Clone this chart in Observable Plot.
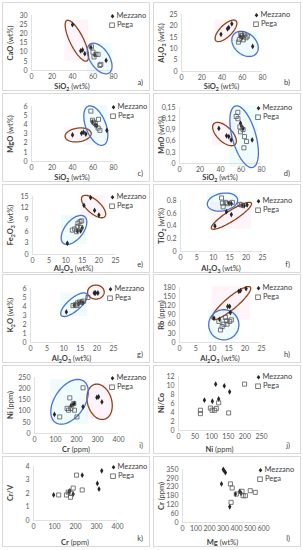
<!DOCTYPE html>
<html><head><meta charset="utf-8">
<script src="https://cdn.jsdelivr.net/npm/d3@7"></script>
<script src="https://cdn.jsdelivr.net/npm/@observablehq/plot@0.6"></script>
<style>
body{margin:0;background:#fff;font-family:Lato,"Liberation Sans",sans-serif;}
#fig{position:relative;width:303px;height:550px;overflow:hidden;}
.panel{position:absolute;border:1px solid #d9d9d9;box-sizing:border-box;}
.panel svg{position:absolute;left:0;top:0;overflow:visible;}
.xt,.yt{position:absolute;font-size:7.5px;color:#404040;white-space:nowrap;line-height:1;}
.yt{transform:translate(-50%,-50%) rotate(-90deg);}
.xt{transform:translate(-50%,-50%);}
sub{font-size:70%;vertical-align:-0.3em;line-height:0;}
.leg{position:absolute;font-size:7.5px;color:#404040;line-height:1;white-space:nowrap;transform:translateY(-50%);}
.leg svg{position:static;vertical-align:middle;margin-right:2px;}
.let{position:absolute;font-size:7.5px;color:#404040;line-height:1;}
</style></head>
<body><div id="fig"></div>
<script>
// ---- data ----
const seriesNames = ["Mezzano", "Pega"];
const panelLetters = ["a)","b)","c)","d)","e)","f)","g)","h)","i)","j)","k)","l)"];

// a) CaO vs SiO2
const aMez = [[40,25],[48,10.7],[49.8,11.2],[52,9.2],[58,12.5],[61.8,8.5],[72.8,5.5]];
const aPeg = [[58.5,12.9],[62.8,8.8],[65,8.8],[61,7.4],[66.7,2.8],[67.6,3.3],[60,10]];
// b) Al2O3 vs SiO2
const bMez = [[39,16.3],[45.4,18.7],[46.7,19.2],[49.7,20.9],[70.3,11],[57.8,15.4],[59.8,14.8],[61,15.5]];
const bPeg = [[56.2,12.9],[57.2,14],[59.5,15.8],[62,16],[63.7,14.8],[58.5,16.5],[61,13.9],[65,15.5]];
// c) MgO vs SiO2
const cMez = [[40,2.9],[48.8,3.07],[50.7,3.2],[53,3.0],[59.5,4.3],[62,3.97],[63.7,3.9],[73.5,3.4]];
const cPeg = [[57.9,5.5],[59.5,4.5],[60.5,4.3],[65.4,4.6],[62.1,4.15],[65,3.65],[66.7,3.4]];
// d) MnO vs SiO2
const dMez = [[38.4,0.094],[45.9,0.074],[48.1,0.072],[50.4,0.063],[59.5,0.108],[60.5,0.1],[62,0.094],[70.9,0.063]];
const dPeg = [[56.9,0.137],[55.3,0.126],[57,0.12],[58.9,0.098],[59.5,0.085],[62,0.091],[63.4,0.072],[65.4,0.059],[62.8,0.042]];
// e) Fe2O3 vs Al2O3
const eMez = [[10.5,2.9],[13.5,6.1],[14.5,6.1],[15,6.9],[17.5,14.7],[15.5,12.7],[18.7,11.4],[20,10.2]];
const ePeg = [[12,6.3],[12.7,6.6],[13.5,7.2],[13.7,8.1],[14.3,8.5],[13.3,5.9],[14.8,8.7],[14.5,7]];
// f) TiO2 vs Al2O3
const fMez = [[10.5,0.40],[14,0.625],[15.5,0.58],[14.8,0.76],[15.5,0.75],[19.4,0.715],[20.3,0.73],[18.8,0.72]];
const fPeg = [[12.5,0.84],[12.8,0.76],[13.7,0.77],[14.3,0.75],[15.8,0.77],[18.1,0.74],[18.6,0.73],[13,0.70]];
// g) K2O vs Al2O3
const gMez = [[10.8,3.4],[13.2,4.15],[14.5,4.3],[15.2,4.5],[15.8,4.4],[19.2,5.5],[19.6,5.5],[20.3,5.5]];
const gPeg = [[12.8,4.1],[13.5,4.2],[14.2,4.4],[14.8,4.5],[15.5,4.5],[16,4.6],[14,4.1],[17.3,5.0]];
// h) Rb vs Al2O3
const hMez = [[10.5,80],[14.7,118],[15.3,118],[15.5,98],[18.1,167],[18.6,170],[20.3,176],[12.2,76]];
const hPeg = [[12,69],[13,52],[13.5,60],[14.3,71],[14.5,60],[15.3,69],[15.8,74],[12.5,41],[14,82]];
// i) Ni vs Cr
const iMez = [[95,85],[174,124],[183,129],[190,134],[231,119],[297,161],[305,164],[321,141]];
const iPeg = [[120,74],[168,159],[155,112],[162,104],[174,112],[187,134],[202,74],[231,204],[190,104]];
// j) Ni/Co vs Ni
const jMez = [[78,6.75],[102,6.5],[112,10.3],[121,7.0],[138,9.9],[154,8.6]];
const jPeg = [[66,4.5],[66,3.75],[96,5.0],[101,4.5],[109,4.5],[121,6.15],[151,3.9],[199,10.3],[114,4.9]];
// k) Cr/V vs Cr
const kMez = [[96,1.89],[168,2.1],[173,2.2],[189,1.96],[232,3.36],[304,2.75],[312,2.33],[325,3.68]];
const kPeg = [[120,1.89],[157,1.89],[165,2.1],[176,1.72],[189,2.4],[205,3.36],[232,2.26],[179,2.01]];
// l) Cr vs Mg
const lMez = [[302,350],[310,340],[318,330],[289,255],[350,104],[392,188],[424,206],[434,193]];
const lPeg = [[355,255],[368,228],[360,133],[399,188],[441,206],[449,177],[502,210],[539,199],[466,177]];

// tick values / labels
const ticksSiO2 = [0,20,40,60,80];
const ticksAl2O3 = [0,5,10,15,20,25];
const ticksCr = [0,100,200,300,400];
const ticksNi = [0,50,100,150,200,250];
const ticksMg = [0,100,200,300,400,500,600];
const ticksCaO = [0,5,10,15,20,25,30];
const ticksAl = [0,5,10,15,20,25];
const ticksMgO = [0,1,2,3,4,5,6];
const ticksMnO = [0,0.03,0.06,0.09,0.12,0.15];
const labelsMnO = ["0","0,3","0,6","0,9","0,12","0,15"];
const ticksFe = [0,3,6,9,12,15];
const ticksTi = [0,0.2,0.4,0.6,0.8];
const ticksK = [0,1,2,3,4,5,6];
const ticksRb = [0,30,60,90,120,150,180];
const ticksNiY = [0,50,100,150,200,250];
const ticksNiCo = [0,2,4,6,8,10,12];
const ticksCrV = [0,1,2,3,4];
const ticksCrY = [0,1,2,3,4,5,6].map(i => i*350/6);
const labelsCrY = ["0","60","120","180","230","290","350"];

// ellipse annotations: major-axis end points (data units) + minor/major ratio
const ellBrown = {
  a:[34.5,27.3,54,5.2,0.3], b:[34,13.5,53.9,22.2,0.42], c:[32.8,2.7,58.2,3.1,0.52], d:[33.5,0.1066,54.3,0.051,0.5],
  e:[15,15,21.8,9.8,0.44], f:[9.45,0.36,21.6,0.76,0.22], g:[17.2,5.6,22.2,5.6,0.84], h:[10,77,21.6,181,0.24],
  i:[286,219,334,64,0.67]
};
const ellBlue = {
  a:[57.2,14.4,75.8,-1.3,0.55], b:[51.6,16.3,73.9,7.9,0.72], c:[55.3,6.03,70.2,1.8,0.48], d:[54.6,0.154,71.5,-0.0104,0.37],
  e:[9.3,2.9,15.7,9.8,0.54], f:[8.2,0.73,17.4,0.82,0.57], g:[9.3,3.0,16.9,5.4,0.38], h:[8.9,58,18.1,58,1.0],
  i:[100,49,234,234,0.6]
};

const T = {
  SiO2:'<b>SiO<sub>2</sub></b> (wt%)', Al2O3:'<b>Al<sub>2</sub>O<sub>3</sub></b> (wt%)',
  CaO:'<b>CaO</b> (wt%)', Al2O3y:'<b>Al<sub>2</sub>O<sub>3</sub></b> (wt%)', MgO:'<b>MgO</b> (wt%)', MnO:'<b>MnO</b> (wt%)',
  Fe2O3:'<b>Fe<sub>2</sub>O<sub>3</sub></b> (wt%)', TiO2:'<b>TiO<sub>2</sub></b> (wt%)', K2O:'<b>K<sub>2</sub>O</b> (wt%)',
  Rb:'<b>Rb</b> (ppm)', Ni:'<b>Ni</b> (ppm)', Cr:'<b>Cr</b> (ppm)', NiCo:'<b>Ni/Co</b>', CrV:'<b>Cr/V</b>', Mg:'<b>Mg</b> (wt%)'
};

const L = 2, R = 153, W = 148;
const panels = [
 {id:"a",left:L,top:2,  h:89,ml:28,pw:82,mt:12,ph:55,xd:[0,80], xt:ticksSiO2,yd:[0,30], yt:ticksCaO, xT:T.SiO2, yT:T.CaO, mez:aMez,peg:aPeg,lx:109},
 {id:"b",left:R,top:2,  h:89,ml:27,pw:81,mt:11,ph:57,xd:[0,80], xt:ticksSiO2,yd:[0,25], yt:ticksAl, xT:T.SiO2, yT:T.Al2O3y, mez:bMez,peg:bPeg,lx:102},
 {id:"c",left:L,top:93, h:89,ml:28,pw:82,mt:12,ph:55,xd:[0,80], xt:ticksSiO2,yd:[0,6], yt:ticksMgO, xT:T.SiO2, yT:T.MgO, mez:cMez,peg:cPeg,lx:110},
 {id:"d",left:R,top:93, h:89,ml:25,pw:82,mt:13,ph:56,xd:[0,80], xt:ticksSiO2,yd:[0,0.15], yt:ticksMnO, yl:labelsMnO, xT:T.SiO2, yT:T.MnO, mez:dMez,peg:dPeg,lx:104},
 {id:"e",left:L,top:184,h:89,ml:29,pw:83,mt:11,ph:58,xd:[0,25], xt:ticksAl2O3,yd:[0,15], yt:ticksFe, xT:T.Al2O3, yT:T.Fe2O3, mez:eMez,peg:ePeg,lx:109},
 {id:"f",left:R,top:184,h:89,ml:26,pw:82,mt:15,ph:51,xd:[0,25], xt:ticksAl2O3,yd:[0,0.8], yt:ticksTi, xT:T.Al2O3, yT:T.TiO2, mez:fMez,peg:fPeg,lx:104},
 {id:"g",left:L,top:274,h:89,ml:27,pw:83,mt:13,ph:54,xd:[0,25], xt:ticksAl2O3,yd:[0,6], yt:ticksK, xT:T.Al2O3, yT:T.K2O, mez:gMez,peg:gPeg,lx:107},
 {id:"h",left:R,top:274,h:89,ml:25,pw:82,mt:12,ph:55,xd:[0,25], xt:ticksAl2O3,yd:[0,180], yt:ticksRb, xT:T.Al2O3, yT:T.Rb, mez:hMez,peg:hPeg,lx:104},
 {id:"i",left:L,top:365,h:89,ml:31,pw:84,mt:11,ph:56,xd:[0,400],xt:ticksCr,yd:[0,250], yt:ticksNiY, xT:T.Cr, yT:T.Ni, mez:iMez,peg:iPeg,lx:109},
 {id:"j",left:R,top:365,h:89,ml:24,pw:83,mt:10,ph:54,xd:[0,250],xt:ticksNi,yd:[0,12], yt:ticksNiCo, xT:T.Ni, yT:T.NiCo, mez:jMez,peg:jPeg,lx:104},
 {id:"k",left:L,top:456,h:91,ml:30,pw:84,mt:9, ph:54,xd:[0,400],xt:ticksCr,yd:[0,4], yt:ticksCrV, xT:T.Cr, yT:T.CrV, mez:kMez,peg:kPeg,lx:110},
 {id:"l",left:R,top:456,h:91,ml:28,pw:81,mt:12,ph:53,xd:[0,600],xt:ticksMg,yd:[0,350], yt:ticksCrY, yl:labelsCrY, xT:T.Mg, yT:T.Cr, mez:lMez,peg:lPeg,lx:106}
];

function ellipse(e, p) {
  const [x1,y1,x2,y2,r] = e;
  const X = v => p.ml + (v - p.xd[0])/(p.xd[1]-p.xd[0])*p.pw;
  const Y = v => p.mt + p.ph - (v - p.yd[0])/(p.yd[1]-p.yd[0])*p.ph;
  const iX = px => p.xd[0] + (px - p.ml)/p.pw*(p.xd[1]-p.xd[0]);
  const iY = py => p.yd[0] + (p.mt + p.ph - py)/p.ph*(p.yd[1]-p.yd[0]);
  const ax=X(x1), ay=Y(y1), bx=X(x2), by=Y(y2);
  const cx=(ax+bx)/2, cy=(ay+by)/2, a=Math.hypot(bx-ax,by-ay)/2, b=a*r, t=Math.atan2(by-ay,bx-ax);
  return d3.range(81).map(i => {
    const u = i/80*2*Math.PI;
    const px = cx + a*Math.cos(u)*Math.cos(t) - b*Math.sin(u)*Math.sin(t);
    const py = cy + a*Math.cos(u)*Math.sin(t) + b*Math.sin(u)*Math.cos(t);
    return {x: iX(px), y: iY(py)};
  });
}
function tint(pts, fill) {
  const [x1,x2] = d3.extent(pts, d => d.x), [y1,y2] = d3.extent(pts, d => d.y);
  return Plot.rect([{x1,x2,y1,y2}], {x1:"x1", x2:"x2", y1:"y1", y2:"y2", fill, fillOpacity:0.3});
}

const fig = document.getElementById("fig");
const diamondSvg = '<svg width="5" height="6" viewBox="-2.5 -3 5 6"><path d="M0,-2.2L1.8,0L0,2.2L-1.8,0Z" fill="#262626"/></svg>';
const squareSvg = '<svg width="6" height="6" viewBox="-3 -3 6 6"><rect x="-2.3" y="-2.3" width="4.6" height="4.6" fill="none" stroke="#595959" stroke-width="0.8"/></svg>';

panels.forEach((p, k) => {
  const div = document.createElement("div");
  div.className = "panel";
  div.style.left = p.left + "px"; div.style.top = p.top + "px";
  div.style.width = W + "px"; div.style.height = p.h + "px";
  const w = W - 2, h = p.h - 2;
  const brown = ellBrown[p.id] ? ellipse(ellBrown[p.id], p) : null;
  const blue = ellBlue[p.id] ? ellipse(ellBlue[p.id], p) : null;
  const marks = [];
  if (brown) marks.push(tint(brown, "#fbd9ea"));
  if (blue) marks.push(tint(blue, "#c9f1f7"));
  marks.push(Plot.ruleY([p.yd[0]], {stroke:"#d9d9d9", strokeWidth:0.8}));
  marks.push(Plot.ruleX([p.xd[0]], {stroke:"#d9d9d9", strokeWidth:0.8}));
  if (brown) marks.push(Plot.line(brown, {x:"x", y:"y", stroke:"#8e4418", strokeWidth:1.3}));
  if (blue) marks.push(Plot.line(blue, {x:"x", y:"y", stroke:"#4a72d2", strokeWidth:1.3}));
  marks.push(Plot.dot(p.mez, {x:d=>d[0], y:d=>d[1], symbol:"diamond", r:1.75, fill:"#262626", stroke:"none"}));
  marks.push(Plot.dot(p.peg, {x:d=>d[0], y:d=>d[1], symbol:"square", r:2.3, fill:"none", stroke:"#595959", strokeWidth:0.8}));
  const yfmt = p.yl ? (d => p.yl[p.yt.findIndex(v => Math.abs(v-d) < 1e-9)]) : (d => String(d));
  const svg = Plot.plot({
    width: w, height: h,
    marginLeft: p.ml, marginRight: w - p.ml - p.pw, marginTop: p.mt, marginBottom: h - p.mt - p.ph,
    x: {domain: p.xd, ticks: p.xt, tickSize: 0, tickPadding: 4, label: null, tickFormat: d => String(d)},
    y: {domain: p.yd, ticks: p.yt, tickSize: 0, tickPadding: 4, label: null, tickFormat: yfmt},
    style: {fontFamily: "Lato, 'Liberation Sans', sans-serif", fontSize: "7px", color: "#595959", background: "none", overflow: "visible"},
    marks
  });
  div.appendChild(svg);
  // axis titles
  const xt = document.createElement("div"); xt.className = "xt"; xt.innerHTML = p.xT;
  xt.style.left = (p.ml + p.pw/2) + "px"; xt.style.top = (h - 3) + "px"; div.appendChild(xt);
  const yt = document.createElement("div"); yt.className = "yt"; yt.innerHTML = p.yT;
  yt.style.left = "8px"; yt.style.top = (p.mt + p.ph/2) + "px"; div.appendChild(yt);
  // legend
  const l1 = document.createElement("div"); l1.className = "leg"; l1.innerHTML = diamondSvg + seriesNames[0];
  l1.style.left = (p.lx - 2.5) + "px"; l1.style.top = (p.mt + 1) + "px"; div.appendChild(l1);
  const l2 = document.createElement("div"); l2.className = "leg"; l2.innerHTML = squareSvg + seriesNames[1];
  l2.style.left = (p.lx - 3) + "px"; l2.style.top = (p.mt + 10) + "px"; div.appendChild(l2);
  // panel letter
  const lt = document.createElement("div"); lt.className = "let"; lt.textContent = panelLetters[k];
  lt.style.right = (p.left === L ? 6 : 10) + "px"; lt.style.bottom = "4px"; div.appendChild(lt);
  fig.appendChild(div);
});
</script></body></html>
